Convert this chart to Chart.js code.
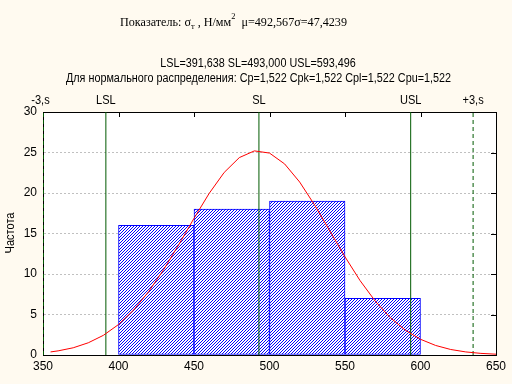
<!DOCTYPE html>
<html>
<head>
<meta charset="utf-8">
<script src="https://cdn.jsdelivr.net/npm/chart.js@4/dist/chart.umd.min.js"></script>
<style>
html,body{margin:0;padding:0;background:#FFFAF0;}
canvas{display:block;}
</style>
</head>
<body>
<canvas id="c" width="512" height="384"></canvas>
<script>
// ---- data ----
const binEdges = [400, 450, 500, 550, 600];
const binCounts = [16, 18, 19, 7];
// fitted normal curve (mu=492.567, sigma=47.4239)
const curveX = [355, 360, 370, 380, 390, 400, 410, 420, 430, 440, 450, 460, 470, 480, 490, 500,
                510, 520, 530, 540, 550, 560, 570, 580, 590, 600, 610, 620, 630, 640, 650];
const curveY = [0.38, 0.51, 0.89, 1.51, 2.43, 3.76, 5.55, 7.83, 10.57, 13.65, 16.87, 19.94, 22.54, 24.37, 25.20, 24.93,
                23.59, 21.35, 18.48, 15.31, 12.12, 9.18, 6.66, 4.61, 3.06, 1.94, 1.18, 0.68, 0.38, 0.20, 0.10];
const markerNames = ['-3,s', 'LSL', 'SL', 'USL', '+3,s'];
const markerValues = [350.3, 391.638, 493.0, 593.496, 634.84];
const markerDashed = [true, false, false, false, true];
const xTicks = [350, 400, 450, 500, 550, 600, 650];
const yTicks = [0, 5, 10, 15, 20, 25, 30];
const titleMain = ['Показатель: σ', 'т', ' , Н/мм', '2', '  μ=492,567σ=47,4239'];
const titleLine2 = 'LSL=391,638 SL=493,000 USL=593,496';
const titleLine3 = 'Для нормального распределения: Cp=1,522 Cpk=1,522 Cpl=1,522 Cpu=1,522';
const yTitle = 'Частота';

// hatch pattern
function makeHatch() {
  const p = document.createElement('canvas');
  p.width = 3; p.height = 3;
  const g = p.getContext('2d');
  g.fillStyle = '#ffffff'; g.fillRect(0, 0, 3, 3);
  g.fillStyle = '#0000ff';
  g.fillRect(2, 0, 1, 1); g.fillRect(1, 1, 1, 1); g.fillRect(0, 2, 1, 1);
  return g.createPattern(p, 'repeat');
}

const ctx = document.getElementById('c').getContext('2d');
const hatch = makeHatch();

const barData = binCounts.map((v, i) => ({x: (binEdges[i] + binEdges[i + 1]) / 2, y: v}));
const datasets = [{
  type: 'bar', data: barData, backgroundColor: hatch, borderColor: '#0000ff', borderWidth: 1,
  borderSkipped: false, categoryPercentage: 1, barPercentage: 1, order: 5, xAxisID: 'x', yAxisID: 'y'
}];
markerValues.forEach((v, i) => {
  datasets.push({
    type: 'line', data: [{x: v, y: 0}, {x: v, y: 30}], borderColor: '#005a00', borderWidth: 1,
    borderDash: markerDashed[i] ? [4, 3] : [], pointRadius: 0, fill: false, order: 2,
    xAxisID: 'x', yAxisID: 'y'
  });
});
datasets.push({
  type: 'line', data: curveX.map((x, i) => ({x: x, y: curveY[i]})), borderColor: '#ff0000',
  borderWidth: 1, pointRadius: 0, tension: 0, fill: false, order: 1, xAxisID: 'x', yAxisID: 'y'
});

const F = 'Liberation Sans, Arial, sans-serif';

function narrowText(c, text, cx, y, sx) {
  c.save();
  c.translate(cx, y);
  c.scale(sx, 1);
  c.textAlign = 'center';
  c.fillText(text, 0, 0);
  c.restore();
}

const decor = {
  id: 'decor',
  beforeDraw(chart) {
    const c = chart.ctx, a = chart.chartArea;
    c.save();
    c.fillStyle = '#FFFAF0'; c.fillRect(0, 0, chart.width, chart.height);
    c.fillStyle = '#ffffff'; c.fillRect(a.left, a.top, a.right - a.left, a.bottom - a.top);
    c.restore();
  },
  afterDraw(chart) {
    const c = chart.ctx, a = chart.chartArea;
    const xs = chart.scales.x, ys = chart.scales.y;
    c.save();
    c.fillStyle = '#000';
    // title line 1 (serif with sub/superscript)
    const serif = 'Liberation Serif, Times New Roman, serif';
    const parts = [
      {t: titleMain[0], f: '13px ' + serif, dy: 0},
      {t: titleMain[1], f: '9px ' + serif, dy: 3},
      {t: titleMain[2], f: '13px ' + serif, dy: 0},
      {t: titleMain[3], f: '9px ' + serif, dy: -7},
      {t: titleMain[4], f: '13px ' + serif, dy: 0}
    ];
    let total = 0;
    parts.forEach(p => { c.font = p.f; p.w = c.measureText(p.t).width; total += p.w; });
    const sc = 227 / total;
    c.save();
    c.translate(120, 26);
    c.scale(sc, 1);
    let x0 = 0;
    c.textBaseline = 'alphabetic'; c.textAlign = 'left';
    parts.forEach(p => { c.font = p.f; c.fillText(p.t, x0, p.dy); x0 += p.w; });
    c.restore();
    // lines 2 and 3
    c.font = '12px ' + F;
    narrowText(c, titleLine2, 258, 67, 0.9);
    narrowText(c, titleLine3, 258.5, 82, 0.9);
    // marker labels above plot
    markerNames.forEach((n, i) => {
      let px = xs.getPixelForValue(markerValues[i]);
      if (i === 0) px -= 3;
      narrowText(c, n, px, 104, 0.92);
    });
    // y axis title
    c.save();
    c.translate(14, 233); c.rotate(-Math.PI / 2);
    c.scale(0.92, 1);
    c.textAlign = 'center'; c.textBaseline = 'alphabetic';
    c.fillText(yTitle, 0, 0);
    c.restore();
    // inner tick marks top & right
    c.strokeStyle = '#000'; c.lineWidth = 1;
    c.beginPath();
    xTicks.slice(1, -1).forEach(v => {
      const px = Math.round(xs.getPixelForValue(v)) + 0.5;
      c.moveTo(px, a.top); c.lineTo(px, a.top + 5);
    });
    yTicks.slice(1, -1).forEach(v => {
      const py = Math.round(ys.getPixelForValue(v)) + 0.5;
      c.moveTo(a.right, py); c.lineTo(a.right - 5, py);
    });
    c.stroke();
    c.restore();
  }
};

new Chart(ctx, {
  type: 'bar',
  data: {datasets: datasets},
  options: {
    responsive: false, animation: false, devicePixelRatio: 1,
    layout: {padding: 0},
    plugins: {legend: {display: false}, tooltip: {enabled: false}, title: {display: false}},
    scales: {
      x: {
        type: 'linear', position: 'bottom', min: 350, max: 650, offset: false,
        afterBuildTicks: s => { s.ticks = xTicks.map(v => ({value: v})); },
        ticks: {color: '#000', font: {family: F, size: 12}, padding: 4, maxRotation: 0, autoSkip: false},
        grid: {display: false, drawTicks: false, offset: false},
        border: {display: true, color: '#000', width: 1},
        afterFit: s => { s.height = 29; }
      },
      xTop: {
        type: 'linear', axis: 'x', position: 'top', min: 350, max: 650, offset: false,
        ticks: {display: false},
        grid: {display: false, drawTicks: false},
        border: {display: true, color: '#000', width: 1},
        afterFit: s => { s.height = 112; }
      },
      y: {
        type: 'linear', position: 'left', min: 0, max: 30,
        afterBuildTicks: s => { s.ticks = yTicks.map(v => ({value: v})); },
        ticks: {color: '#000', font: {family: F, size: 12}, padding: 6},
        grid: {
          drawTicks: false,
          color: c => (c.tick && (c.tick.value === 0 || c.tick.value === 30)) ? 'rgba(0,0,0,0)' : '#c0c0c0',
          lineWidth: 1
        },
        border: {display: true, color: '#000', width: 1, dash: [2, 2]},
        afterFit: s => { s.width = 43; }
      },
      yRight: {
        type: 'linear', axis: 'y', position: 'right', min: 0, max: 30,
        ticks: {display: false},
        grid: {display: false, drawTicks: false},
        border: {display: true, color: '#000', width: 1},
        afterFit: s => { s.width = 16; }
      }
    }
  },
  plugins: [decor]
});
</script>
</body>
</html>
